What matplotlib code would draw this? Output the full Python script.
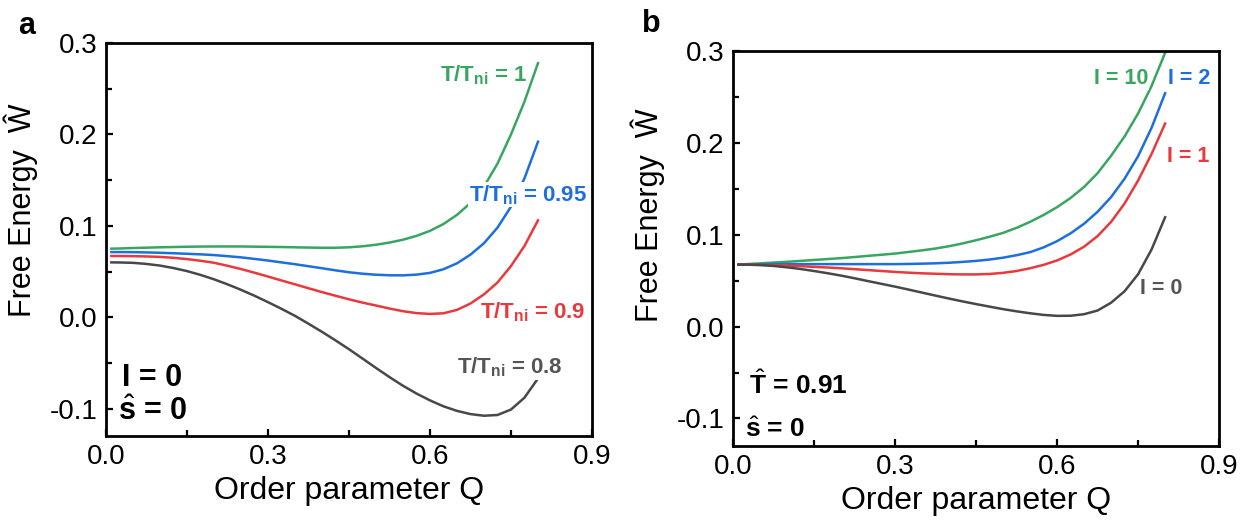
import matplotlib
matplotlib.use("Agg")
import matplotlib.pyplot as plt
from matplotlib.ticker import MultipleLocator

plt.rcParams['font.family'] = 'Liberation Sans'
plt.rcParams['mathtext.fontset'] = 'custom'
plt.rcParams['mathtext.rm'] = 'Liberation Sans'
plt.rcParams['mathtext.bf'] = 'Liberation Sans:bold'
plt.rcParams['mathtext.it'] = 'Liberation Sans:italic'

# order parameter grid
q = [0.01, 0.025, 0.05, 0.075, 0.1, 0.125, 0.15, 0.175, 0.2, 0.225, 0.25, 0.275,
     0.3, 0.325, 0.35, 0.375, 0.4, 0.425, 0.45, 0.475, 0.5, 0.525, 0.55, 0.575,
     0.6, 0.625, 0.65, 0.675, 0.7, 0.725, 0.75, 0.775, 0.8]

# panel a: I = 0, s = 0, different T/Tni
w_t100 = [0.0750, 0.0752, 0.0757, 0.0761, 0.0765, 0.0768, 0.0771, 0.0773, 0.0774, 0.0774,
          0.0774, 0.0772, 0.0770, 0.0768, 0.0765, 0.0762, 0.0760, 0.0760, 0.0765, 0.0776,
          0.0793, 0.0817, 0.0848, 0.0890, 0.0945, 0.102, 0.112, 0.125, 0.143, 0.168,
          0.200, 0.236, 0.278]
w_t095 = [0.0713, 0.0713, 0.0712, 0.0709, 0.0705, 0.0700, 0.0694, 0.0688, 0.0680, 0.0668,
          0.0655, 0.0638, 0.0620, 0.0600, 0.0580, 0.0558, 0.0536, 0.0513, 0.0492, 0.0476,
          0.0465, 0.0459, 0.0458, 0.0466, 0.0485, 0.0525, 0.0590, 0.0685, 0.0810, 0.0980,
          0.121, 0.152, 0.192]
w_t090 = [0.0670, 0.0670, 0.0668, 0.0665, 0.0660, 0.0650, 0.0636, 0.0618, 0.0596, 0.0563,
          0.0527, 0.0487, 0.0445, 0.0402, 0.0360, 0.0317, 0.0275, 0.0235, 0.0196, 0.0160,
          0.0128, 0.0095, 0.0066, 0.0045, 0.0036, 0.0043, 0.0080, 0.0150, 0.0250, 0.0380,
          0.0560, 0.0780, 0.106]
w_t080 = [0.0600, 0.0599, 0.0595, 0.0583, 0.0565, 0.0538, 0.0505, 0.0463, 0.0415, 0.0360,
          0.0300, 0.0235, 0.0165, 0.0092, 0.0015, -0.0071, -0.0160, -0.0253, -0.0350, -0.0452,
          -0.0555, -0.0655, -0.0750, -0.0835, -0.0910, -0.0975, -0.1025, -0.1060, -0.1078, -0.1070,
          -0.1010, -0.0880, -0.0670]

# panel b: T = 0.91, s = 0, different I
w_i10 = [0.0675, 0.0680, 0.0688, 0.0697, 0.0705, 0.0715, 0.0725, 0.0735, 0.0745, 0.0757,
         0.0770, 0.0782, 0.0795, 0.0812, 0.0830, 0.0850, 0.0875, 0.0905, 0.0940, 0.0978,
         0.1020, 0.1075, 0.1140, 0.1215, 0.1300, 0.1400, 0.1520, 0.1670, 0.1860, 0.2070,
         0.2320, 0.2620, 0.2980]
w_i2 = [0.0675, 0.0676, 0.0678, 0.0679, 0.0680, 0.0680, 0.0680, 0.0680, 0.0680, 0.0680,
        0.0680, 0.0680, 0.0680, 0.0682, 0.0685, 0.0689, 0.0695, 0.0704, 0.0715, 0.0730,
        0.0750, 0.0777, 0.0810, 0.0862, 0.0930, 0.1015, 0.1120, 0.1250, 0.1410, 0.1610,
        0.1855, 0.2165, 0.2540]
w_i1 = [0.0675, 0.0674, 0.0672, 0.0669, 0.0665, 0.0658, 0.0650, 0.0643, 0.0635, 0.0625,
        0.0615, 0.0605, 0.0595, 0.0587, 0.0580, 0.0575, 0.0570, 0.0568, 0.0568, 0.0573,
        0.0585, 0.0605, 0.0635, 0.0672, 0.0720, 0.0785, 0.0870, 0.0985, 0.1140, 0.1340,
        0.1590, 0.1880, 0.2210]
w_i0 = [0.0675, 0.0674, 0.0670, 0.0660, 0.0645, 0.0627, 0.0605, 0.0581, 0.0555, 0.0526,
        0.0495, 0.0465, 0.0435, 0.0403, 0.0370, 0.0337, 0.0305, 0.0274, 0.0245, 0.0217,
        0.0190, 0.0166, 0.0145, 0.0127, 0.0117, 0.0118, 0.0135, 0.0175, 0.0260, 0.0385,
        0.0570, 0.0840, 0.1190]

green = '#38a660'
blue = '#1c6fdc'
red = '#e8393c'
gray = '#484848'


def style_axes(ax):
    ax.set_xlim(0, 0.9)
    ax.set_ylim(-0.13, 0.3)
    ax.xaxis.set_major_locator(MultipleLocator(0.3))
    ax.xaxis.set_minor_locator(MultipleLocator(0.15))
    ax.yaxis.set_major_locator(MultipleLocator(0.1))
    ax.yaxis.set_minor_locator(MultipleLocator(0.05))
    ax.xaxis.set_major_formatter(plt.FuncFormatter(lambda v, p: f'{v:.1f}'))
    ax.yaxis.set_major_formatter(plt.FuncFormatter(lambda v, p: f'{v:.1f}'))
    ax.tick_params(which='both', direction='in', top=False, right=False,
                   labelsize=20, width=1.6)
    ax.tick_params(which='major', length=5, pad=6)
    ax.tick_params(which='minor', length=4)
    for s in ax.spines.values():
        s.set_linewidth(2)
    ax.set_xlabel('Order parameter Q', fontsize=23, labelpad=4)
    ax.set_ylabel('Free Energy  Ŵ', fontsize=22)


fig = plt.figure(figsize=(12.45, 5.23), dpi=100)
ax1 = fig.add_axes([0.0851, 0.1663, 0.3904, 0.7514])
ax2 = fig.add_axes([0.5888, 0.1472, 0.3904, 0.7553])

wbox = dict(facecolor='white', edgecolor='none', pad=0.5)

lw = 1.8
ax1.plot(q, w_t100, color=green, lw=lw)
ax1.plot(q, w_t095, color=blue, lw=lw)
ax1.plot(q, w_t090, color=red, lw=lw)
ax1.plot(q, w_t080, color=gray, lw=lw)
style_axes(ax1)
ax1.yaxis.set_label_coords(-0.14, 0.575)

tk = dict(fontsize=16, fontweight='bold', va='center', ha='right', bbox=wbox)
ax1.text(0.78, 0.265, r'T/T$_{\mathbf{ni}}$ = 1', color=green, **tk)
ax1.text(0.891, 0.134, r'T/T$_{\mathbf{ni}}$ = 0.95', color=blue, **tk)
ax1.text(0.887, 0.006, r'T/T$_{\mathbf{ni}}$ = 0.9', color=red, **tk)
ax1.text(0.846, -0.055, r'T/T$_{\mathbf{ni}}$ = 0.8', color='#555555', **tk)
ax1.text(0.03, -0.075, 'I = 0', fontsize=22, fontweight='bold', va='baseline')
ax1.text(0.022, -0.113, r'$\hat{\mathbf{s}}$ = 0', fontsize=22, fontweight='bold', va='baseline')

ax2.plot(q, w_i10, color=green, lw=lw)
ax2.plot(q, w_i2, color=blue, lw=lw)
ax2.plot(q, w_i1, color=red, lw=lw)
ax2.plot(q, w_i0, color=gray, lw=lw)
style_axes(ax2)
ax2.yaxis.set_label_coords(-0.14, 0.585)

ik = dict(fontsize=15.5, fontweight='bold', va='center', bbox=wbox)
ax2.text(0.769, 0.27, 'I = 10', color=green, ha='right', **ik)
ax2.text(0.806, 0.27, 'I = 2', color=blue, ha='left', **ik)
ax2.text(0.804, 0.185, 'I = 1', color=red, ha='left', **ik)
ax2.text(0.754, 0.042, 'I = 0', color='#555555', ha='left', **ik)
ax2.text(0.03, -0.073, r'$\hat{\mathbf{T}}$ = 0.91', fontsize=19, fontweight='bold', va='baseline')
ax2.text(0.022, -0.12, r'$\hat{\mathbf{s}}$ = 0', fontsize=19, fontweight='bold', va='baseline')

fig.text(18 / 1245, 1 - 34 / 523, 'a', fontsize=22, fontweight='bold')
fig.text(642 / 1245, 1 - 32 / 523, 'b', fontsize=22, fontweight='bold')

fig.savefig('out.png', dpi=100)
